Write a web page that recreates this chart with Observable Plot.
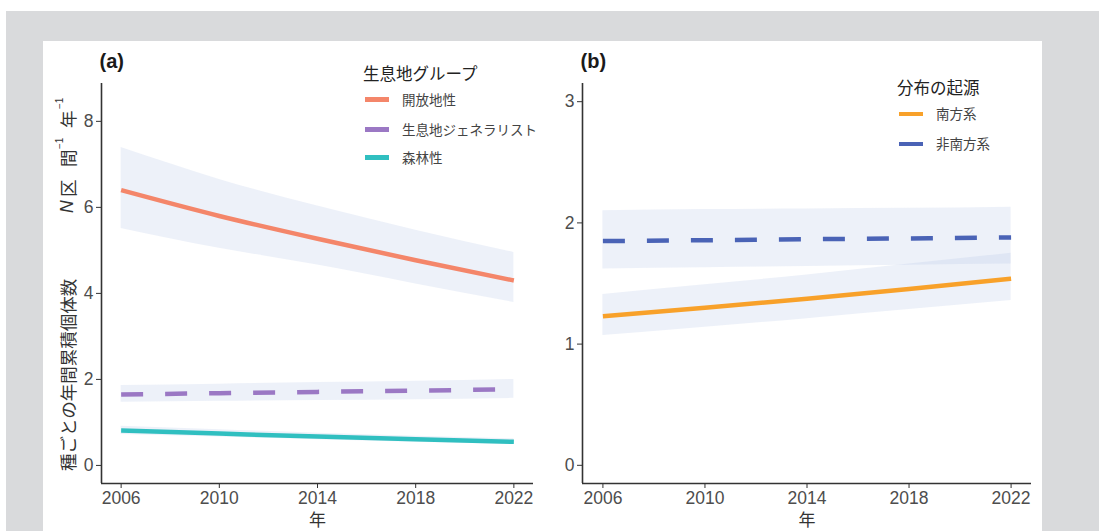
<!DOCTYPE html>
<html><head><meta charset="utf-8">
<script src="https://cdn.jsdelivr.net/npm/d3@7"></script>
<script src="https://cdn.jsdelivr.net/npm/@observablehq/plot@0.6"></script>
<style>
body{margin:0;width:1099px;height:531px;overflow:hidden;background:#fff;position:relative;font-family:"Liberation Sans","Noto Sans CJK JP",sans-serif;}
#bg{position:absolute;left:6px;top:11px;right:0;bottom:0;background:#d9dadc;}
#panel{position:absolute;left:43px;top:41px;width:999px;bottom:0;background:#fff;}
.holder{position:absolute;top:0;}
.leg{position:absolute;font-family:"Noto Sans CJK JP","Liberation Sans",sans-serif;white-space:nowrap;}
.legtitle{font-size:16.5px;color:#222;line-height:1;transform:translateY(-50%);}
.legitem{font-size:13.5px;color:#444;line-height:1;transform:translateY(-50%);}
</style></head>
<body>
<div id="bg"></div><div id="panel"></div>
<div id="a" class="holder" style="left:0px"></div>
<div id="b" class="holder" style="left:540px"></div>
<div id="legends"></div>
<script>
// ---- data ----
const years = [2006, 2010, 2014, 2018, 2022];
const yearTicks = [2006, 2010, 2014, 2018, 2022];

const habitatGroups = ["開放地性", "生息地ジェネラリスト", "森林性"];
const habitatColors = ["#f4866a", "#9b78c4", "#30bfc0"];
const openFit  = [6.40, 5.80, 5.27, 4.77, 4.30];
const openLow  = [5.51, 5.05, 4.66, 4.22, 3.79];
const openHigh = [7.39, 6.65, 6.03, 5.47, 4.95];
const generalistFit  = [1.65, 1.68, 1.71, 1.74, 1.77];
const generalistLow  = [1.47, 1.49, 1.51, 1.53, 1.56];
const generalistHigh = [1.86, 1.89, 1.93, 1.96, 2.00];
const forestFit  = [0.81, 0.74, 0.67, 0.61, 0.55];
const forestLow  = [0.72, 0.66, 0.60, 0.54, 0.49];
const forestHigh = [0.91, 0.83, 0.75, 0.68, 0.62];
const habitatTicks = [0, 2, 4, 6, 8];

const originGroups = ["南方系", "非南方系"];
const originColors = ["#f8a12a", "#4a63b6"];
const southFit  = [1.23, 1.30, 1.375, 1.455, 1.54];
const southLow  = [1.07, 1.14, 1.21, 1.285, 1.36];
const southHigh = [1.41, 1.49, 1.57, 1.66, 1.75];
const nonSouthFit  = [1.85, 1.857, 1.865, 1.872, 1.88];
const nonSouthLow  = [1.62, 1.63, 1.64, 1.65, 1.66];
const nonSouthHigh = [2.10, 2.11, 2.115, 2.12, 2.13];
const originTicks = [0, 1, 2, 3];

// ---- tables ----
function rows(group, fit, low, high) {
  return years.map((year, i) => ({year, group, fit: fit[i], low: low[i], high: high[i]}));
}
const tableA = [
  ...rows(habitatGroups[0], openFit, openLow, openHigh),
  ...rows(habitatGroups[1], generalistFit, generalistLow, generalistHigh),
  ...rows(habitatGroups[2], forestFit, forestLow, forestHigh)
];
const tableB = [
  ...rows(originGroups[0], southFit, southLow, southHigh),
  ...rows(originGroups[1], nonSouthFit, nonSouthLow, nonSouthHigh)
];

const FONT = '"Liberation Sans","Noto Sans CJK JP",sans-serif';
const ribbonFill = "#b9c6e6";

function panel({table, groups, colors, dashed, xDomain, yDomain, yTicks, width, marginLeft, marginRight, tag}) {
  const solid = table.filter(d => d.group !== dashed);
  const dash = table.filter(d => d.group === dashed);
  return Plot.plot({
    width, height: 531,
    marginTop: 83, marginBottom: 48, marginLeft, marginRight,
    style: {background: "none", fontFamily: FONT, color: "#4d4d4d", overflow: "visible"},
    x: {domain: xDomain},
    y: {domain: yDomain},
    color: {domain: groups, range: colors},
    marks: [
      Plot.areaY(table, {x: "year", y1: "low", y2: "high", z: "group", fill: ribbonFill, fillOpacity: 0.25, curve: "natural"}),
      Plot.line(solid, {x: "year", y: "fit", z: "group", stroke: "group", strokeWidth: 4.5, curve: "natural", strokeLinecap: "butt"}),
      Plot.line(dash, {x: "year", y: "fit", z: "group", stroke: "group", strokeWidth: 4.5, curve: "natural", strokeDasharray: "22,22", strokeLinecap: "butt"}),
      Plot.axisX({ticks: yearTicks, tickFormat: d => String(d), tickSize: 5, tickPadding: 3, fontSize: 17.5, label: null, stroke: "#333", fill: "#4d4d4d"}),
      Plot.axisY({ticks: yTicks, tickFormat: d => String(d), tickSize: 5, tickPadding: 3, fontSize: 17.5, label: null, stroke: "#333", fill: "#4d4d4d"}),
      Plot.ruleX([xDomain[0]], {stroke: "#333", strokeWidth: 1.6}),
      Plot.ruleY([yDomain[0]], {stroke: "#333", strokeWidth: 1.6}),
      Plot.text(["年"], {text: d => d, frameAnchor: "bottom", dy: 37, lineAnchor: "middle", fontSize: 17, fill: "#333", fontFamily: '"Noto Sans CJK JP",sans-serif'}),
      Plot.text([tag], {text: d => d, frameAnchor: "top-left", textAnchor: "start", lineAnchor: "middle", dx: -2, dy: -22, fontSize: 20, fontWeight: "bold", fill: "#1a1a1a"})
    ]
  });
}

const plotA = panel({table: tableA, groups: habitatGroups, colors: habitatColors, dashed: habitatGroups[1],
  xDomain: [2005.2, 2022.8], yDomain: [-0.42, 8.88], yTicks: habitatTicks, width: 545, marginLeft: 101, marginRight: 12, tag: "(a)"});
const plotB = panel({table: tableB, groups: originGroups, colors: originColors, dashed: originGroups[1],
  xDomain: [2005.2, 2022.8], yDomain: [-0.15, 3.15], yTicks: originTicks, width: 559, marginLeft: 42, marginRight: 68, tag: "(b)"});
document.getElementById("a").append(plotA);
document.getElementById("b").append(plotB);

// ---- y axis title for panel (a) ----
const svgA = d3.select(plotA);
const t = svgA.append("text")
  .attr("transform", "translate(67,471) rotate(-90)")
  .attr("text-anchor", "start")
  .attr("dominant-baseline", "central")
  .attr("fill", "#333")
  .style("font-family", '"Noto Sans CJK JP","Liberation Sans",sans-serif')
  .style("font-size", "17.5px");
t.append("tspan").attr("x", 0).text("種ごとの年間累積個体数");
t.append("tspan").attr("x", 258).style("font-style", "italic").style("font-family", FONT).text("N");
t.append("tspan").attr("x", 274).text("区");
t.append("tspan").attr("x", 304).text("間");
t.append("tspan").attr("x", 322).attr("dy", -8).style("font-size", "10px").style("font-family", FONT).text("−1");
t.append("tspan").attr("x", 343).attr("dy", 8).text("年");
t.append("tspan").attr("x", 362).attr("dy", -8).style("font-size", "10px").style("font-family", FONT).text("−1");

// ---- legends ----
const leg = d3.select("#legends");
function legend(title, groups, colors, tx, ty, kx, lx, ys) {
  leg.append("div").attr("class", "leg legtitle").style("left", tx + "px").style("top", ty + "px").text(title);
  groups.forEach((g, i) => {
    leg.append("div").attr("class", "leg").style("left", kx + "px").style("top", (ys[i] - 2.25) + "px")
      .style("width", "24px").style("height", "4.5px").style("background", colors[i]);
    leg.append("div").attr("class", "leg legitem").style("left", lx + "px").style("top", ys[i] + "px").text(g);
  });
}
legend("生息地グループ", habitatGroups, habitatColors, 363, 73, 365, 402, [99.5, 129.5, 157.5]);
legend("分布の起源", originGroups, originColors, 897, 87, 899, 936, [114, 144]);
</script>
</body></html>
